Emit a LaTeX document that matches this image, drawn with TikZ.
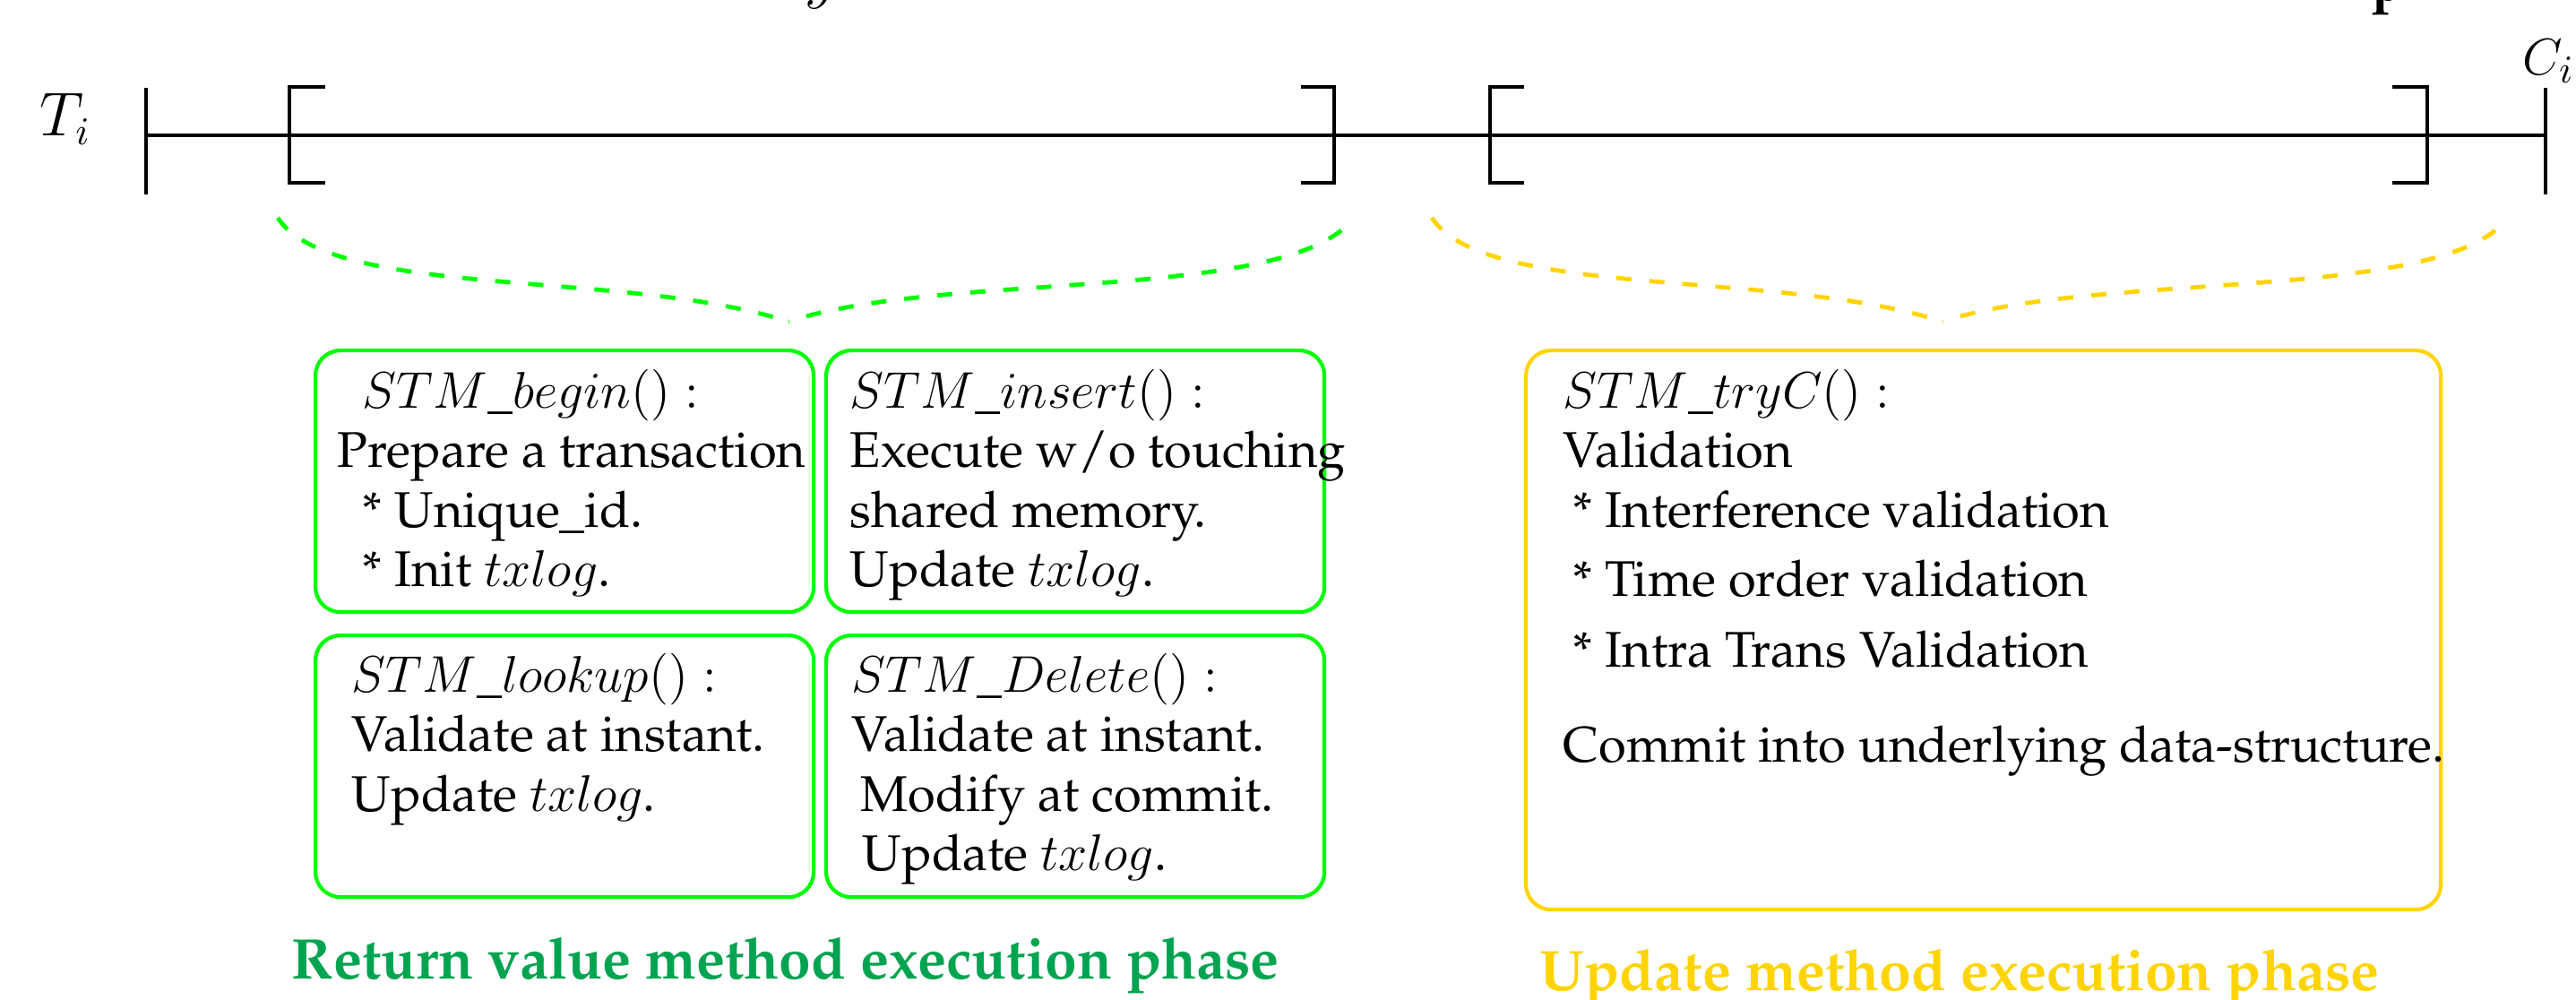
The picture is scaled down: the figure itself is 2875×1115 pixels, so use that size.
\documentclass[tikz,border=0pt]{standalone}
\usepackage[T1]{fontenc}
\renewcommand{\rmdefault}{ppl}
\definecolor{boxgreen}{RGB}{0,255,0}
\definecolor{titlegreen}{RGB}{0,163,80}
\definecolor{gold}{RGB}{255,212,0}
\begin{document}
\begin{tikzpicture}[x=0.25pt,y=-0.25pt,
  tl/.style={line width=1.15pt},
  tick/.style={line width=0.9pt},
  brk/.style={line width=1.1pt},
  gbox/.style={draw=boxgreen,line width=1.05pt,rounded corners=7pt,anchor=north west,inner sep=0pt,minimum width=139pt,minimum height=73pt},
  ybox/.style={draw=gold,line width=1.05pt,rounded corners=7pt,anchor=north west,inner sep=0pt,minimum width=255.25pt,minimum height=156pt},
  txt/.style={anchor=base west,inner sep=0pt,font=\fontsize{14}{16.625}\selectfont},
  gdash/.style={draw=boxgreen,line width=1.2pt,dash pattern=on 4.25pt off 5pt},
  ydash/.style={draw=gold,line width=1.2pt,dash pattern=on 4.25pt off 5pt},
  ttl/.style={anchor=base west,inner sep=0pt,font=\fontsize{16}{19}\selectfont\bfseries}]
\useasboundingbox (0,0) rectangle (2875,1115);
% fragments of cut-off text at the top
\node[anchor=base west,inner sep=0pt,font=\fontsize{16}{19}\selectfont] (fragy) at (898,-4) {$y$};
\node[anchor=base west,inner sep=0pt,font=\fontsize{16}{19}\selectfont\bfseries] (fragp) at (2646,0) {p};
% timeline
\coordinate (s) at (163,151);
\coordinate (e) at (2841,151);
\draw[tl] (s) -- (e);
\draw[tick] (163,98) -- (163,217);
\draw[tick] (2841,98) -- (2841,217);
\draw[brk] (363,97) -- (323,97) -- (323,204) -- (363,204);
\draw[brk] (1452,97) -- (1489,97) -- (1489,204) -- (1452,204);
\draw[brk] (1701,97) -- (1663,97) -- (1663,204) -- (1701,204);
\draw[brk] (2670,97) -- (2709,97) -- (2709,204) -- (2670,204);
\node[anchor=base west,inner sep=0pt,font=\fontsize{16}{19}\selectfont] (ti) at (44,151) {$T_i$};
\node[anchor=base west,inner sep=0pt,font=\fontsize{15.5}{18}\selectfont] (ci) at (2815,83) {$C_i$};
% braces
\coordinate (gL) at (310,243);
\coordinate (gT) at (880,359);
\coordinate (gR) at (1497,257);
\draw[gdash] (gL) .. controls (370,335) and (700,300) .. (gT);
\draw[gdash] (gR) .. controls (1400,335) and (1040,305) .. (gT);
\coordinate (yL) at (1598,243);
\coordinate (yT) at (2168,359);
\coordinate (yR) at (2785,257);
\draw[ydash] (yL) .. controls (1658,335) and (1988,300) .. (yT);
\draw[ydash] (yR) .. controls (2688,335) and (2328,305) .. (yT);
% boxes
\node[gbox] (b1) at (350,389) {};
\node[gbox] (b2) at (920,389) {};
\node[gbox] (b3) at (350,707) {};
\node[gbox] (b4) at (920,707) {};
\node[ybox] (b5) at (1701,389) {};
% texts
\node[txt] (t1) at (376,455) {\begin{tabular}[t]{@{}l@{}}\hspace{7pt}$STM\_begin() :$\\ Prepare a transaction\\ \hspace{7pt}* Unique\_id.\\ \hspace{7pt}* Init $txlog$.\end{tabular}};
\node[txt] (t2) at (948,455) {\begin{tabular}[t]{@{}l@{}}$STM\_insert() :$\\ Execute w/o touching\\ shared memory.\\ Update $txlog$.\end{tabular}};
\node[txt] (t3) at (392,772) {\begin{tabular}[t]{@{}l@{}}$STM\_lookup() :$\\ Validate at instant.\\ Update $txlog$.\end{tabular}};
\node[txt] (t4) at (950,772) {\begin{tabular}[t]{@{}l@{}}$STM\_Delete() :$\\ Validate at instant.\\ \hspace{2.5pt}Modify at commit.\\ \hspace{3pt}Update $txlog$.\end{tabular}};
\node[txt] (t5) at (1744,455) {\begin{tabular}[t]{@{}l@{}}$STM\_tryC() :$\\ Validation\\ \hspace{2.75pt}* Interference validation\\[2.75pt] \hspace{2.75pt}* Time order validation\\[3pt] \hspace{2.75pt}* Intra Trans Validation\\[9.9pt] Commit into underlying data-structure.\end{tabular}};
% titles
\node[ttl,text=titlegreen] (g1) at (325,1092) {Return value method execution phase};
\node[ttl,text=gold] (g2) at (1718,1105) {Update method execution phase};
\end{tikzpicture}
\end{document}
